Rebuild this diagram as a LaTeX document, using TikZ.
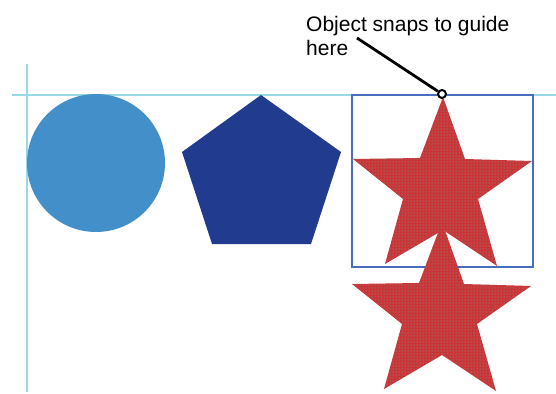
\documentclass[tikz,border=0pt]{standalone}
\usepackage{fontspec}
\setmainfont{Liberation Sans}
\usetikzlibrary{patterns}
\definecolor{guide}{RGB}{150,218,228}
\definecolor{circblue}{RGB}{66,143,202}
\definecolor{pentblue}{RGB}{33,60,143}
\definecolor{boxblue}{RGB}{72,108,190}
\definecolor{starred}{RGB}{202,52,52}
\definecolor{dotcol}{RGB}{110,175,190}
\tikzset{
  guideline/.style={draw=guide, line width=1.6pt},
  startshape/.style={fill=starred},
  stardots/.style={pattern=dots, pattern color=dotcol},
  leader/.style={draw=black, line width=2.8pt},
}
\begin{document}
\begin{tikzpicture}[x=1pt,y=-1pt]
\useasboundingbox (0,0) rectangle (556,393);
% guides
\draw[guideline] (12,95) -- (556,95);
\draw[guideline] (27,64) -- (27,392);
% circle
\fill[circblue] (96,163) circle (69);
% pentagon
\fill[pentblue] (261,95) -- (341,152) -- (311,244) -- (212,244) -- (182,152) -- cycle;
% bounding box
\draw[boxblue, line width=1.3pt] (352,95) rectangle (533,267);
% stars
\foreach \dx/\dy in {0/0, -1/125}{
  \begin{scope}[shift={(\dx,\dy)}]
    \path[startshape] (443,97) -- (465,159) -- (532,161) -- (478,199) -- (497,266) -- (443,230) -- (385,264) -- (403,199) -- (353,159) -- (420,158) -- cycle;
    \path[stardots] (443,97) -- (465,159) -- (532,161) -- (478,199) -- (497,266) -- (443,230) -- (385,264) -- (403,199) -- (353,159) -- (420,158) -- cycle;
  \end{scope}
}
% snap marker and label
\node[circle, draw=black, fill=white, line width=2pt, inner sep=0pt, minimum size=8pt] (snap) at (442,94) {};
\node[anchor=base west, align=left, font=\fontsize{21}{24}\selectfont, inner sep=0pt] (label) at (306,56) {Object snaps to guide\\here};
\coordinate (lstart) at (357,38);
\draw[leader] (lstart) -- (snap);
\end{tikzpicture}
\end{document}
